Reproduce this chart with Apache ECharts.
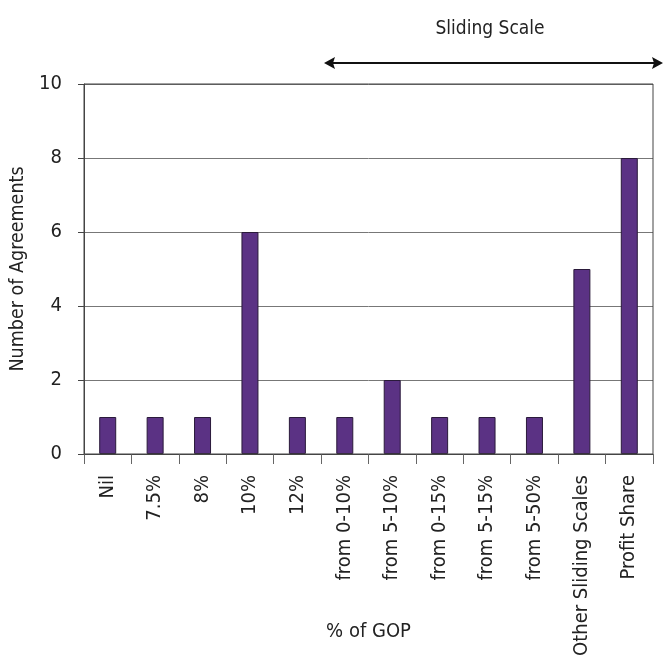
<!DOCTYPE html>
<html><head><meta charset="utf-8">
<script src="https://cdn.jsdelivr.net/npm/echarts@6/dist/echarts.min.js"></script>
<style>html,body{margin:0;padding:0;background:#fff}#c{width:663px;height:657px}</style>
</head><body><div id="c"></div>
<script>
var categories = ['Nil','7.5%','8%','10%','12%','from 0-10%','from 5-10%','from 0-15%','from 5-15%','from 5-50%','Other Sliding Scales','Profit Share'];
var values = [1,1,1,6,1,1,2,1,1,1,5,8];
var yTicks = [0,2,4,6,8,10];
var FONT = '"Liberation Sans Narrow","DejaVu Sans Condensed",sans-serif';
var chart = echarts.init(document.getElementById('c'));
chart.setOption({
  animation:false,
  grid:{left:84,right:10,top:84,bottom:203,containLabel:false,outerBoundsMode:'none'},
  xAxis:{type:'category',data:categories,name:'% of GOP',nameLocation:'middle',nameGap:168,nameMoveOverlap:false,
    nameTextStyle:{fontFamily:FONT,fontSize:20,color:'#222'},
    axisLine:{lineStyle:{color:'#444',width:1}},
    axisTick:{show:true,length:10,lineStyle:{color:'#666'}},
    axisLabel:{rotate:90,fontFamily:FONT,fontSize:20,color:'#222',margin:21}},
  yAxis:{type:'value',min:0,max:10,interval:2,name:'Number of Agreements',nameLocation:'middle',nameGap:56,nameMoveOverlap:false,
    nameTextStyle:{fontFamily:FONT,fontSize:19.5,color:'#222'},
    axisLine:{show:true,lineStyle:{color:'#444'}},
    axisTick:{show:true,length:6,lineStyle:{color:'#444'}},
    axisLabel:{fontFamily:FONT,fontSize:20,color:'#222',margin:22},
    splitLine:{lineStyle:{color:'#777',width:1}}},
  series:[{type:'bar',data:values,barWidth:17,
    itemStyle:{color:'#5B3284',borderColor:'#2a1a3a',borderWidth:1}}],
  graphic:[
    {type:'rect',shape:{x:84,y:84,width:569,height:370},style:{fill:'none',stroke:'#444',lineWidth:1},z:10},
    {type:'text',style:{text:'Sliding Scale',x:490,y:29,fontFamily:FONT,fontSize:19,fill:'#222',textAlign:'center',textVerticalAlign:'middle'},z:10},
    {type:'line',shape:{x1:330,y1:63,x2:657,y2:63},style:{stroke:'#111',lineWidth:2},z:10},
    {type:'polygon',shape:{points:[[324,63],[335,57],[333,63],[335,69]]},style:{fill:'#111'},z:10},
    {type:'polygon',shape:{points:[[663,63],[652,57],[654,63],[652,69]]},style:{fill:'#111'},z:10}
  ]
});
</script></body></html>
